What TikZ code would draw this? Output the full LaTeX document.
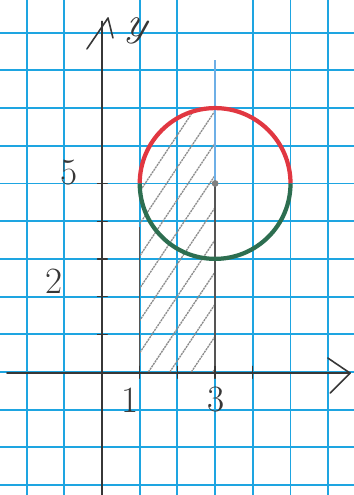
\documentclass[tikz,border=0pt]{standalone}
\usepackage{fontspec}
\definecolor{gridblue}{RGB}{30,165,225}
\definecolor{pencil}{RGB}{55,55,55}
\definecolor{redpen}{RGB}{225,55,65}
\definecolor{greenpen}{RGB}{45,110,80}
\definecolor{bluepen}{RGB}{110,175,230}
\tikzset{
  gridline/.style={gridblue,line width=1.4pt},
  axisline/.style={pencil,line width=1.2pt,line cap=round,line join=round},
  tickmark/.style={pencil,line width=1pt,line cap=round},
  hatchline/.style={gray!90,line width=1pt,dash pattern=on 1.6pt off 0.6pt},
  guide/.style={pencil!85,line width=1.1pt},
  lbl/.style={pencil,font=\fontsize{28}{28}\selectfont,inner sep=0pt}
}
\begin{document}
\begin{tikzpicture}[x=1cm,y=1cm]
\useasboundingbox (-2.706,-3.263) rectangle (6.684,9.867);
\fill[white] (-2.706,-3.263) rectangle (6.684,9.867);
% grid paper
\foreach \x in {-2,-1,1,2,4,5,6} \draw[gridline] (\x,-3.4) -- (\x,10);
\draw[gridline] (3,-3.4) -- (3,8.28);
\foreach \y in {-3,...,9} \draw[gridline] (-2.8,\y) -- (6.8,\y);
% hatched region
\begin{scope}
  \clip (1,0) -- (1,5) arc[start angle=180,end angle=90,radius=2] -- (3,0) -- cycle;
  \foreach \c in {-3.9,-3.33,...,3.2} \draw[hatchline] (\c,0) -- ++(5,7.5);
\end{scope}
\coordinate (L0) at (1,0);
\coordinate (L1) at (1,3.85);
\coordinate (R0) at (3,0);
\coordinate (C) at (3,5);
\coordinate (B) at (3,8.28);
\draw[guide] (L0) -- (L1);
\draw[guide] (R0) -- (C);
\draw[bluepen,line width=1.2pt] (C) -- (B);
% circle
\draw[redpen,line width=3.2pt] (1,5) arc[start angle=180,end angle=0,radius=2];
\draw[greenpen,line width=3.2pt] (1,5) arc[start angle=180,end angle=360,radius=2];
\fill[gray] (C) circle (0.09);
% axes
\coordinate (xl) at (-2.52,-0.03);
\coordinate (xr) at (6.58,-0.03);
\coordinate (yb) at (0,-3.3);
\coordinate (yt) at (0,9.3);
\draw[axisline] (xl) -- (xr);
\draw[axisline] (5.99,0.37) -- (xr) -- (6.05,-0.56);
\draw[axisline] (yb) -- (yt);
\draw[axisline] (-0.40,8.57) -- (0.16,9.39) -- (0.29,8.86);
\foreach \k in {1,...,5} \draw[tickmark] (-0.12,\k) -- (0.14,\k);
\foreach \k in {1,...,4} \draw[tickmark] (\k,-0.17) -- (\k,0.15);
% labels
\node[lbl,font=\fontsize{32}{32}\selectfont\itshape,rotate=-15] (ylab) at (0.88,9.05) {y};
\node[lbl] (l5) at (-0.88,5.3) {5};
\node[lbl] (l2) at (-1.27,2.41) {2};
\node[lbl] (l1) at (0.74,-0.74) {1};
\node[lbl] (l3) at (3.02,-0.72) {3};
\end{tikzpicture}
\end{document}
